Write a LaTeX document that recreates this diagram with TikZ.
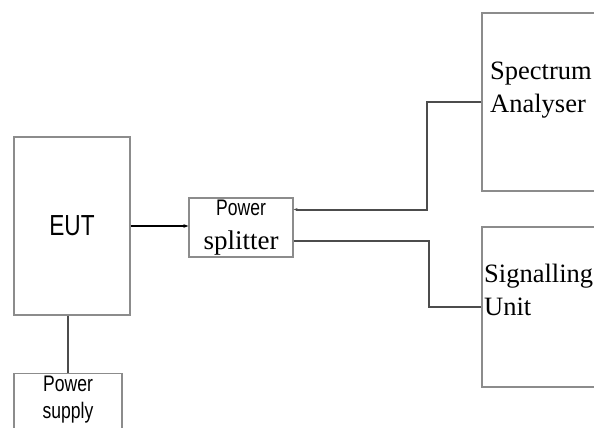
\documentclass[tikz,border=0pt]{standalone}
\usepackage{fontspec}
\setmainfont{Liberation Serif}
\newfontfamily\narrowsf[FakeStretch=0.78]{Liberation Sans}
\usetikzlibrary{arrows.meta,positioning}

\begin{document}
\begin{tikzpicture}[x=1pt, y=-1pt,
    unit/.style={draw=gray!90, line width=1.3pt, inner sep=0pt},
    boxtext/.style={anchor=north west, inner sep=0pt, align=left, font=\fontsize{26.5}{33}\selectfont},
    link/.style={draw=black!70, line width=2pt},
    feed/.style={-{Stealth[length=5pt]}, line width=2.6pt, black}
]
\clip (0,0) rectangle (594,428);
\fill[white] (0,0) rectangle (594,428);

\node[unit, minimum width=116pt, minimum height=178pt, font=\narrowsf\fontsize{29}{30}\selectfont] (eut) at (72,226) {EUT};
\node[unit, minimum width=104pt, minimum height=59pt, align=center, font=\fontsize{27}{34}\selectfont] (split) at (241,227.5)
    {{\narrowsf\fontsize{22.5}{34}\selectfont Power}\\splitter};
\node[unit, anchor=north, minimum width=108pt, inner ysep=2pt, text depth=16pt, align=center, font=\narrowsf\fontsize{22.5}{27}\selectfont] (supply) at (68,373)
    {Power\\supply};

\node[unit, minimum width=140pt, minimum height=178pt] (spec) at (552,102) {};
\node[boxtext] (spectxt) at (490,62) {Spectrum\\Analyser};
\node[unit, minimum width=140pt, minimum height=160pt] (sig) at (552,307) {};
\node[boxtext] (sigtxt) at (484,264) {Signalling\\Unit};

\draw[feed] (eut.east) -- (eut.east -| split.west);
\draw[link] (supply.north |- eut.south) -- (supply.north);
\draw[link, -{Stealth[length=4pt]}] (spec.west) -- ++(-54,0) |- ([yshift=18pt]split.east);
\draw[link] ([yshift=-13.5pt]split.east) -- ++(135,0) |- (sig.west);

\end{tikzpicture}
\end{document}
